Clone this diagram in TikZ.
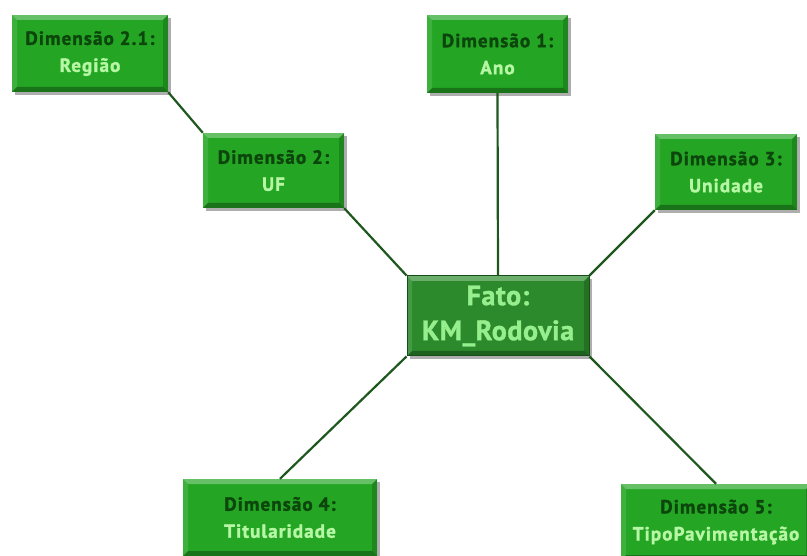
\documentclass[tikz,border=0pt]{standalone}
\usepackage{fontspec}
\newfontfamily\boxfont{PT Sans}[LetterSpace=6,FakeBold=1.6]
\newfontfamily\factfont{PT Sans}[LetterSpace=2,FakeBold=1.2]
\usetikzlibrary{shadows,calc}

\definecolor{dimgreen}{RGB}{36,166,36}
\definecolor{factgreen}{RGB}{44,138,44}
\definecolor{titledark}{RGB}{12,70,12}
\definecolor{labellight}{RGB}{182,246,164}
\definecolor{factlight}{RGB}{150,238,140}
\definecolor{linkgreen}{RGB}{30,88,30}

\tikzset{
  bevel/.style={
    path picture={
      \def\bw{5pt}
      \coordinate (bnw) at (path picture bounding box.north west);
      \coordinate (bne) at (path picture bounding box.north east);
      \coordinate (bsw) at (path picture bounding box.south west);
      \coordinate (bse) at (path picture bounding box.south east);
      \fill[white,opacity=0.30] (bnw) -- (bne) -- ($(bne)+(-\bw,-\bw)$) -- ($(bnw)+(\bw,-\bw)$) -- cycle;
      \fill[white,opacity=0.12] (bnw) -- (bsw) -- ($(bsw)+(\bw,\bw)$) -- ($(bnw)+(\bw,-\bw)$) -- cycle;
      \fill[black,opacity=0.30] (bsw) -- (bse) -- ($(bse)+(-\bw,\bw)$) -- ($(bsw)+(\bw,\bw)$) -- cycle;
      \fill[black,opacity=0.18] (bne) -- (bse) -- ($(bse)+(-\bw,\bw)$) -- ($(bne)+(-\bw,-\bw)$) -- cycle;
    }},
  boxshadow/.style={drop shadow={shadow xshift=3pt,shadow yshift=-3pt,opacity=0.45,fill=black!70}},
  dimbox/.style={rectangle, fill=dimgreen, bevel, boxshadow, align=center,
    inner sep=0pt, font=\boxfont\bfseries\fontsize{19}{27}\selectfont},
  factbox/.style={rectangle, fill=factgreen, draw=black!45!factgreen, line width=1pt,
    bevel, boxshadow, align=center,
    inner sep=0pt, text=factlight, font=\factfont\bfseries\fontsize{28}{35}\selectfont},
  link/.style={draw=linkgreen, line width=2.2pt}
}

\newcommand{\dimtext}[2]{\textcolor{titledark}{#1}\\\textcolor{labellight}{#2}}

\begin{document}
\begin{tikzpicture}[x=1pt,y=-1pt]
  \useasboundingbox (0,0) rectangle (807,556);
  \fill[white] (0,0) rectangle (807,556);

  \node[dimbox, minimum width=156pt, minimum height=77pt] (d21) at (90,53.5) {\dimtext{Dimensão 2.1:}{Região}};
  \node[dimbox, minimum width=141pt, minimum height=78pt] (d1) at (497.5,54) {\dimtext{Dimensão 1:}{Ano}};
  \node[dimbox, minimum width=141pt, minimum height=75pt] (d2) at (273.5,170.5) {\dimtext{Dimensão 2:}{UF}};
  \node[dimbox, minimum width=142pt, minimum height=76pt] (d3) at (726,172) {\dimtext{Dimensão 3:}{Unidade}};
  \node[factbox, minimum width=182pt, minimum height=80pt] (fact) at (498,316) {Fato:\\KM\_Rodovia};
  \node[dimbox, minimum width=194pt, minimum height=77pt] (d4) at (280,517.5) {\dimtext{Dimensão 4:}{Titularidade}};
  \node[dimbox, minimum width=190pt, minimum height=76pt] (d5) at (716,522) {\dimtext{Dimensão 5:}{TipoPavimentação}};

  \draw[link] (d21.south east) -- (d2.north west);
  \draw[link] (d2.south east) -- (fact.north west);
  \draw[link] (d1.south) -- (fact.north);
  \draw[link] (d3.south west) -- (fact.north east);
  \draw[link] (fact.south west) -- (d4.north);
  \draw[link] (fact.south east) -- (d5.north);
\end{tikzpicture}
\end{document}
